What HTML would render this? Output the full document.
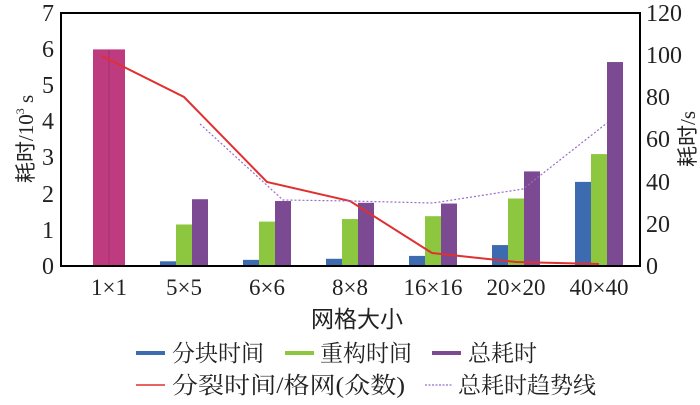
<!DOCTYPE html>
<html><head><meta charset="utf-8"><style>
body{margin:0;background:#fff;}
svg text{font-family:"Liberation Serif","Noto Serif CJK SC",serif;fill:#222;}
.cj{font-family:"Liberation Sans","Noto Sans CJK SC",sans-serif;}
</style></head><body>
<svg width="700" height="400" xmlns="http://www.w3.org/2000/svg">
<g id="bars">
<rect x="93" y="49.4" width="16" height="216.6" fill="#bf3b80"/>
<rect x="109" y="49.4" width="16" height="216.6" fill="#bf3b80"/>
<line x1="109" y1="50" x2="109" y2="266" stroke="#a03070" stroke-width="1"/>
</g>
<g id="b2"></g>
<g fill="none" stroke="#000" stroke-width="2">
<rect x="61" y="13" width="579" height="253"/>
</g>
<polyline points="102,56 184,97 267,182 350,201 432,253 516,262 599,264" fill="none" stroke="#e03030" stroke-width="2"/>
<polyline points="200,124 283,200 350,201 433,203 523,189 607,123" fill="none" stroke="#9a6bc9" stroke-width="1.2" stroke-dasharray="2,2"/>
<g font-size="24" text-anchor="end">
<text x="54" y="274">0</text><text x="54" y="238">1</text><text x="54" y="202">2</text><text x="54" y="165">3</text><text x="54" y="129">4</text><text x="54" y="93">5</text><text x="54" y="57">6</text><text x="54" y="21">7</text>
</g>
<g font-size="24" text-anchor="start">
<text x="646" y="274">0</text><text x="646" y="232">20</text><text x="646" y="190">40</text><text x="646" y="147">60</text><text x="646" y="105">80</text><text x="646" y="63">100</text><text x="646" y="21">120</text>
</g>
<g font-size="23" text-anchor="middle">
<text x="109" y="295">1×1</text><text x="184" y="295">5×5</text><text x="267" y="295">6×6</text><text x="350" y="295">8×8</text><text x="433" y="295">16×16</text><text x="516" y="295">20×20</text><text x="599" y="295">40×40</text>
</g>
<text class="cj" x="357" y="327" font-size="23" text-anchor="middle">网格大小</text>
<text x="0" y="0" font-size="21" text-anchor="middle" transform="translate(33,139) rotate(-90)"><tspan class="cj">耗时</tspan>/10<tspan font-size="12" dy="-9">3</tspan><tspan dy="9"> s</tspan></text>
<text x="0" y="0" font-size="21" text-anchor="middle" transform="translate(695,139) rotate(-90)"><tspan class="cj">耗时</tspan>/s</text>
<g class="cj" font-size="23">
<rect x="136" y="351" width="29" height="4" fill="#3d6bb0"/><text x="172" y="361">分块时间</text>
<rect x="285" y="351" width="29" height="4" fill="#8dc63f"/><text x="320" y="361">重构时间</text>
<rect x="432" y="351" width="29" height="4" fill="#7b4a93"/><text x="468" y="361">总耗时</text>
<line x1="136" y1="385" x2="165" y2="385" stroke="#e03030" stroke-width="1.5"/><text x="172" y="393" textLength="233" lengthAdjust="spacingAndGlyphs">分裂时间/格网(众数)</text>
<line x1="425" y1="385" x2="452" y2="385" stroke="#9a6bc9" stroke-width="1.2" stroke-dasharray="2,1.5"/><text x="458" y="393">总耗时趋势线</text>
</g>
<script>
var g=document.getElementById('b2'),ns='http://www.w3.org/2000/svg';
var c=[184,267,350,433,516,599];
var d=[[0.13,1.15,1.85],[0.17,1.23,1.8],[0.2,1.3,1.75],[0.28,1.38,1.73],[0.58,1.87,2.62],[2.33,3.1,5.65]];
var col=['#3d6bb0','#8dc63f','#7b4a93'];
for(var i=0;i<6;i++)for(var j=0;j<3;j++){var h=d[i][j]*36.1;var r=document.createElementNS(ns,'rect');r.setAttribute('x',c[i]-24+16*j);r.setAttribute('y',266-h);r.setAttribute('width',16);r.setAttribute('height',h);r.setAttribute('fill',col[j]);g.appendChild(r);}
</script>
</svg>
</body></html>
